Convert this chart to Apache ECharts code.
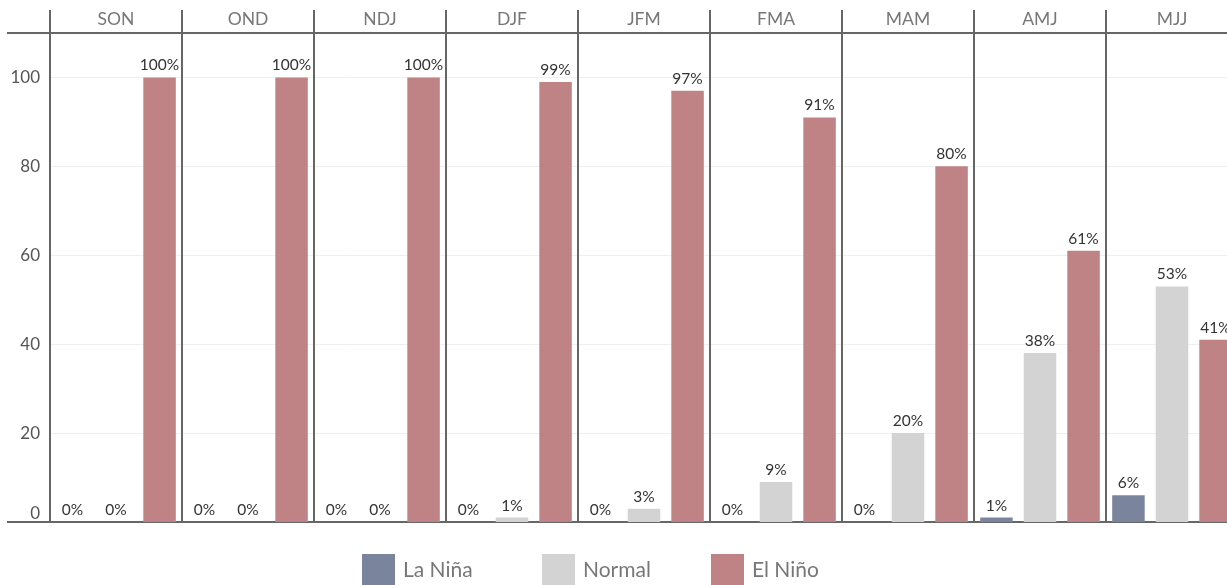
<!DOCTYPE html>
<html>
<head>
<meta charset="utf-8">
<script src="https://cdn.jsdelivr.net/npm/echarts@6/dist/echarts.min.js"></script>
<style>
html,body{margin:0;padding:0;background:#fff;}
#c{width:1227px;height:585px;}
</style>
</head>
<body>
<div id="c"></div>
<script>
const seasons = ['SON','OND','NDJ','DJF','JFM','FMA','MAM','AMJ','MJJ'];
const seriesNames = ['La Niña','Normal','El Niño'];
const laNina = [0,0,0,0,0,0,0,1,6];
const normal = [0,0,0,1,3,9,20,38,53];
const elNino = [100,100,100,99,97,91,80,61,41];
const yTicks = [0,20,40,60,80,100];

const colors = ['#7a859d','#d3d3d3','#bf8385'];
const FONT = 'Lato';
const chart = echarts.init(document.getElementById('c'));

const labelCfg = {
  show: true, position: 'top', distance: 4,
  formatter: p => p.value + '%',
  color: '#333', fontFamily: FONT, fontSize: 15.5
};
function mkSeries(name, data, i) {
  return {
    name: name, type: 'bar', data: data,
    xAxisIndex: 0, yAxisIndex: 0,
    barWidth: 32.5, barGap: '34%',
    itemStyle: {color: colors[i]},
    label: labelCfg
  };
}
const legendBase = {
  top: 554, padding: 0, icon: 'rect', itemWidth: 33, itemHeight: 32, itemGap: 8,
  textStyle: {color: '#777', fontFamily: FONT, fontSize: 21, padding: [0, 0, 0, 3]}
};

chart.setOption({
  animation: false,
  color: colors,
  legend: [
    Object.assign({}, legendBase, {left: 362, data: [seriesNames[0]]}),
    Object.assign({}, legendBase, {left: 542, data: [seriesNames[1]]}),
    Object.assign({}, legendBase, {left: 711, data: [seriesNames[2]]})
  ],
  grid: {left: 50, width: 1188, top: 33, bottom: 63, containLabel: false, outerBoundsMode: 'none'},
  xAxis: [
    {
      type: 'category', data: seasons, position: 'bottom',
      axisLine: {show: true, lineStyle: {color: '#666', width: 2}},
      axisTick: {show: false}, axisLabel: {show: false},
      splitLine: {show: true, lineStyle: {color: '#666', width: 2}}
    },
    {
      type: 'category', data: seasons, position: 'top',
      axisLine: {show: true, lineStyle: {color: '#666', width: 2}},
      axisTick: {show: true, length: 23, lineStyle: {color: '#666', width: 2}},
      axisLabel: {color: '#777', fontFamily: FONT, fontSize: 17.5, margin: 5},
      splitLine: {show: false}
    }
  ],
  yAxis: {
    type: 'value', min: 0, max: 110, interval: 20,
    axisLine: {show: true, lineStyle: {color: '#666', width: 2}},
    axisTick: {show: false},
    axisLabel: {
      color: '#555', fontFamily: FONT, fontSize: 17, margin: 10, showMaxLabel: false,
      verticalAlignMinLabel: 'bottom',
      formatter: v => (yTicks.indexOf(v) >= 0 ? String(v) : '')
    },
    splitLine: {show: true, lineStyle: {color: '#efefef', width: 1}}
  },
  series: [
    mkSeries(seriesNames[0], laNina, 0),
    mkSeries(seriesNames[1], normal, 1),
    mkSeries(seriesNames[2], elNino, 2)
  ]
});

// extend horizontal header and baseline rules to the left of the plot
const x0 = chart.convertToPixel({xAxisIndex: 0}, seasons[0]) - 66;
const yTop = chart.convertToPixel({yAxisIndex: 0}, 110);
const yBase = chart.convertToPixel({yAxisIndex: 0}, 0);
chart.setOption({
  graphic: [
    {type: 'line', shape: {x1: 7, y1: yTop, x2: x0, y2: yTop}, style: {stroke: '#666', lineWidth: 2}},
    {type: 'line', shape: {x1: 7, y1: yBase, x2: x0, y2: yBase}, style: {stroke: '#666', lineWidth: 2}}
  ]
});
</script>
</body>
</html>
